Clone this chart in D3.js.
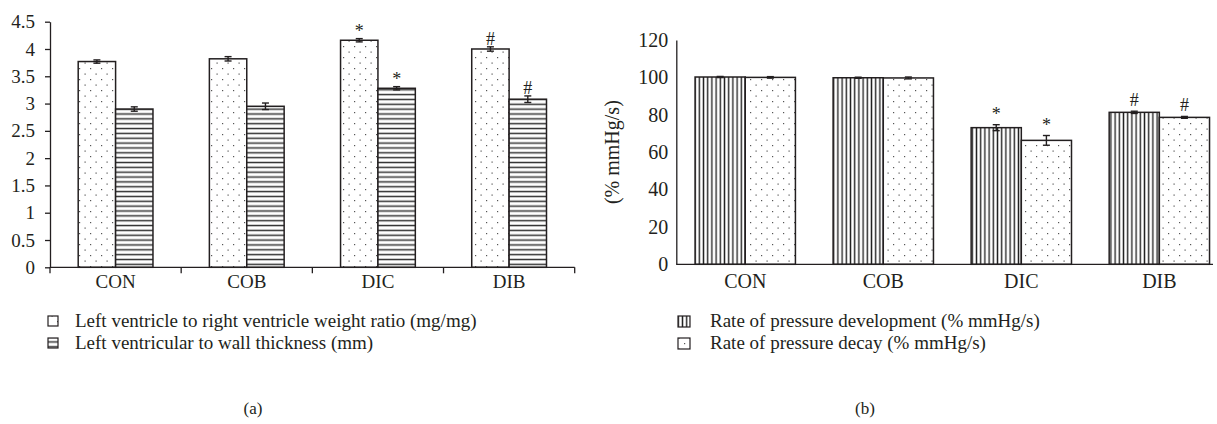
<!DOCTYPE html>
<html>
<head>
<meta charset="utf-8">
<script src="https://cdn.jsdelivr.net/npm/d3@7"></script>
<style>
body { margin: 0; background: #fff; }
svg text { font-family: "Liberation Serif", "Times New Roman", serif; fill: #231f20; }
</style>
</head>
<body>
<svg id="chart" width="1217" height="424"></svg>
<script>
document.addEventListener("DOMContentLoaded", function(e) {

var categories = ["CON", "COB", "DIC", "DIB"];

// panel (a)
var lvRvRatio = [3.77, 3.82, 4.16, 4.00];
var lvRvRatioErr = [0.03, 0.04, 0.03, 0.04];
var wallThickness = [2.90, 2.95, 3.28, 3.08];
var wallThicknessErr = [0.04, 0.06, 0.03, 0.06];
var marksA = ["", "", "*", "#"];
var ticksA = [0, 0.5, 1, 1.5, 2, 2.5, 3, 3.5, 4, 4.5];
var legendA = ["Left ventricle to right ventricle weight ratio (mg/mg)",
               "Left ventricular to wall thickness (mm)"];

// panel (b)
var pressureDev = [100.2, 99.8, 73.1, 81.3];
var pressureDevErr = [0.3, 0.3, 1.6, 0.6];
var pressureDecay = [100.0, 99.7, 66.3, 78.6];
var pressureDecayErr = [0.4, 0.5, 2.6, 0.5];
var marksB = ["", "", "*", "#"];
var ticksB = [0, 20, 40, 60, 80, 100, 120];
var legendB = ["Rate of pressure development (% mmHg/s)",
               "Rate of pressure decay (% mmHg/s)"];

var ink = "#231f20";
var serif = "Liberation Serif, Times New Roman, serif";
var svg = d3.select("#chart");
var defs = svg.append("defs");

// fill patterns
var dots = defs.append("pattern").attr("id", "dots")
    .attr("patternUnits", "userSpaceOnUse").attr("width", 11).attr("height", 11);
dots.append("rect").attr("width", 11).attr("height", 11).attr("fill", "#fff");
dots.append("rect").attr("x", 2).attr("y", 2).attr("width", 1.2).attr("height", 1.2).attr("fill", "#555");
dots.append("rect").attr("x", 7.5).attr("y", 7.5).attr("width", 1.2).attr("height", 1.2).attr("fill", "#555");

var hstripe = defs.append("pattern").attr("id", "hstripe")
    .attr("patternUnits", "userSpaceOnUse").attr("width", 8).attr("height", 4.85);
hstripe.append("rect").attr("width", 8).attr("height", 4.85).attr("fill", "#fff");
hstripe.append("rect").attr("y", 1.7).attr("width", 8).attr("height", 1.5).attr("fill", "#333");

var vstripe = defs.append("pattern").attr("id", "vstripe")
    .attr("patternUnits", "userSpaceOnUse").attr("width", 4.2).attr("height", 8);
vstripe.append("rect").attr("width", 4.2).attr("height", 8).attr("fill", "#fff");
vstripe.append("rect").attr("x", 1.4).attr("width", 1.4).attr("height", 8).attr("fill", "#222");

function drawPanel(cfg) {
    var g = svg.append("g");

    var x = d3.scaleBand().domain(categories)
        .range(cfg.xRange).paddingInner(cfg.padIn).paddingOuter(cfg.padOut);
    var inner = d3.scaleBand().domain([0, 1]).range([0, x.bandwidth()]);
    var y = d3.scaleLinear().domain(cfg.yDomain).range(cfg.yRange);

    // y axis
    var yAxis = g.append("g")
        .attr("transform", "translate(" + cfg.xRange[0] + ",0)")
        .call(d3.axisLeft(y).tickValues(cfg.ticks).tickFormat(String)
            .tickSizeInner(cfg.yTick).tickSizeOuter(0).tickPadding(cfg.yPad));
    yAxis.attr("font-family", serif).attr("font-size", cfg.fontSize);
    yAxis.selectAll("text").attr("fill", ink);
    yAxis.selectAll("line, path").attr("stroke", ink).attr("stroke-width", 1.3);

    // bars
    cfg.series.forEach(function(s, si) {
        var grp = g.append("g");
        grp.selectAll("rect")
            .data(s.values)
            .enter().append("rect")
            .attr("x", function(d, i) { return x(categories[i]) + inner(si); })
            .attr("y", function(d) { return y(d); })
            .attr("width", inner.bandwidth())
            .attr("height", function(d) { return y(0) - y(d); })
            .attr("fill", "url(#" + s.fill + ")")
            .attr("stroke", ink)
            .attr("stroke-width", 1.5);

        var cx = function(i) { return x(categories[i]) + inner(si) + inner.bandwidth() / 2; };
        var eb = grp.selectAll(".err")
            .data(s.values)
            .enter().append("g").attr("class", "err")
            .attr("stroke", ink).attr("stroke-width", 1.4);
        eb.append("line")
            .attr("x1", function(d, i) { return cx(i); })
            .attr("x2", function(d, i) { return cx(i); })
            .attr("y1", function(d, i) { return y(d - s.errs[i]); })
            .attr("y2", function(d, i) { return y(d + s.errs[i]); });
        [-1, 1].forEach(function(sign) {
            eb.append("line")
                .attr("x1", function(d, i) { return cx(i) - 3.5; })
                .attr("x2", function(d, i) { return cx(i) + 3.5; })
                .attr("y1", function(d, i) { return y(d + sign * s.errs[i]); })
                .attr("y2", function(d, i) { return y(d + sign * s.errs[i]); });
        });

        grp.selectAll(".mark")
            .data(s.values)
            .enter().append("text")
            .attr("class", "mark")
            .attr("x", function(d, i) { return cx(i); })
            .attr("y", function(d, i) { return y(d + s.errs[i]) - cfg.markGap; })
            .attr("text-anchor", "middle")
            .style("font-size", "18px")
            .text(function(d, i) { return cfg.marks[i]; });
    });

    // x axis
    var xAxis = g.append("g")
        .attr("transform", "translate(0," + y(0) + ")")
        .call(d3.axisBottom(x).tickSize(0).tickPadding(cfg.xPad));
    xAxis.select(".domain").remove();
    xAxis.attr("font-family", serif).attr("font-size", cfg.fontSize);
    xAxis.selectAll("text").attr("fill", ink);
    xAxis.append("line")
        .attr("x1", cfg.xRange[0]).attr("x2", cfg.xEnd)
        .attr("stroke", ink).attr("stroke-width", 1.3);
    if (cfg.xTick) {
        var edges = categories.map(function(c) { return x(c) + x.bandwidth() + x.step() * cfg.padIn / 2; });
        edges.unshift(cfg.xRange[0]);
        xAxis.selectAll(".edge")
            .data(edges)
            .enter().append("line")
            .attr("class", "edge")
            .attr("x1", function(d) { return d; })
            .attr("x2", function(d) { return d; })
            .attr("y2", cfg.xTick)
            .attr("stroke", ink).attr("stroke-width", 1.3);
    }

    // legend
    var leg = g.append("g");
    cfg.series.forEach(function(s, si) {
        var ly = cfg.legendY + si * 22;
        leg.append("rect")
            .attr("x", cfg.legendX)
            .attr("y", ly - 11)
            .attr("width", cfg.swatch[0]).attr("height", cfg.swatch[1])
            .attr("fill", "url(#" + s.fill + ")")
            .attr("stroke", ink).attr("stroke-width", 1.2);
        leg.append("text")
            .attr("x", cfg.legendTextX)
            .attr("y", ly)
            .style("font-size", "19px")
            .text(s.label);
    });

    g.append("text")
        .attr("x", cfg.captionX).attr("y", 414)
        .attr("text-anchor", "middle")
        .style("font-size", "17px")
        .text(cfg.caption);

    if (cfg.yLabel) {
        g.append("text")
            .attr("transform", "translate(619," + ((cfg.yRange[0] + cfg.yRange[1]) / 2) + ") rotate(-90)")
            .attr("text-anchor", "middle")
            .style("font-size", "20px")
            .text(cfg.yLabel);
    }
}

drawPanel({
    xRange: [50, 574.7], padIn: 0.43, padOut: 0.215,
    yDomain: [0, 4.5], yRange: [267.3, 21.7], ticks: ticksA,
    yTick: 5, yPad: 10, xPad: 7.5, xTick: 6, xEnd: 574.7,
    fontSize: 19, markGap: 2, marks: marksA,
    series: [
        {values: lvRvRatio, errs: lvRvRatioErr, fill: "dots", label: legendA[0]},
        {values: wallThickness, errs: wallThicknessErr, fill: "hstripe", label: legendA[1]}
    ],
    legendX: 48, legendTextX: 75, legendY: 327, swatch: [10, 10],
    caption: "(a)", captionX: 253
});

drawPanel({
    xRange: [676.3, 1228.3], padIn: 0.273, padOut: 0.136,
    yDomain: [0, 120], yRange: [264.3, 40], ticks: ticksB,
    yTick: 0, yPad: 8, xPad: 9.5, xTick: 0, xEnd: 1213,
    fontSize: 20, markGap: 5, marks: marksB,
    series: [
        {values: pressureDev, errs: pressureDevErr, fill: "vstripe", label: legendB[0]},
        {values: pressureDecay, errs: pressureDecayErr, fill: "dots", label: legendB[1]}
    ],
    legendX: 678, legendTextX: 710, legendY: 327, swatch: [12, 11],
    caption: "(b)", captionX: 865, yLabel: "(% mmHg/s)"
});

});
</script>
</body>
</html>
